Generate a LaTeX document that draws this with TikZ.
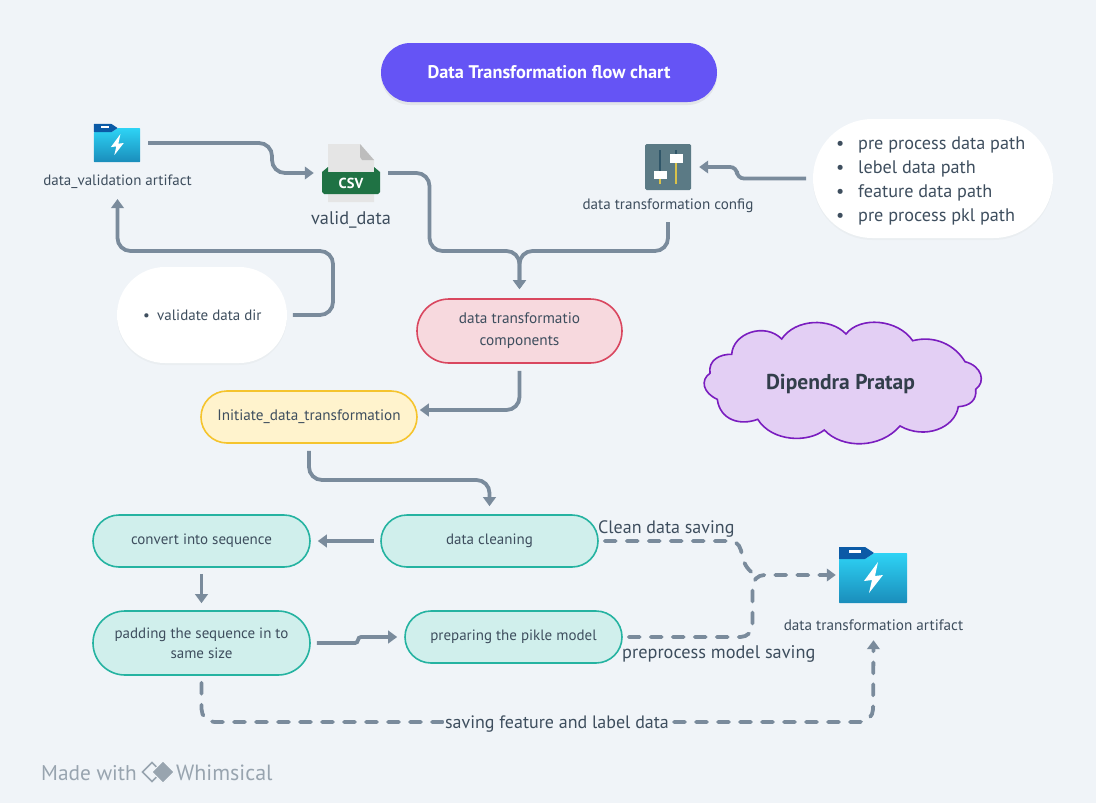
\documentclass[tikz,border=0pt]{standalone}
\usepackage{fontspec}
\setmainfont{PT Sans}
\usetikzlibrary{arrows.meta,shapes.misc,shadows,calc}
\definecolor{bgc}{HTML}{F0F4F8}
\definecolor{txt}{HTML}{3E4E5E}
\definecolor{conn}{HTML}{7A8B9C}
\definecolor{tealf}{HTML}{D0EFEC}
\definecolor{teals}{HTML}{25B3A1}
\definecolor{titlec}{HTML}{6554F5}
\definecolor{compf}{HTML}{F7D9DE}
\definecolor{comps}{HTML}{D9475F}
\definecolor{initf}{HTML}{FFF3CD}
\definecolor{inits}{HTML}{F5C42D}
\definecolor{cloudf}{HTML}{E3CFF4}
\definecolor{clouds}{HTML}{7A1DBF}
\definecolor{foldt}{HTML}{2ED3F5}
\definecolor{foldb}{HTML}{1A8DBB}
\definecolor{foldk}{HTML}{0B5AA6}
\definecolor{cfgf}{HTML}{5B7A85}
\definecolor{cfgd}{HTML}{2F5568}
\definecolor{cfgy}{HTML}{D9C24A}
\definecolor{csvg}{HTML}{1F7244}
\definecolor{foot}{HTML}{98A4AF}
\newcommand{\fs}[1]{\fontsize{#1}{#1}\selectfont}
\newcommand{\folderIcon}[3]{%
 \begin{scope}[shift={(#1,#2)},scale=#3,shift={(-34,-28)}]
  \shade[top color=foldt,bottom color=foldb,rounded corners=.6]
    (0,12) -- (26,12) -- (35,6) -- (68,6) -- (68,56) -- (0,56) -- cycle;
  \fill[fill=foldk,rounded corners=.4] (0,0) -- (26,0) -- (35,6) -- (26,12) -- (0,12) -- cycle;
  \fill[white] (10,3) rectangle (22,6);
  \fill[white] (39,15) -- (25,34) -- (33,33) -- (30,46) -- (44,28) -- (36,29) -- cycle;
 \end{scope}}
\tikzset{
 x=1pt,y=-1pt,
 lbl/.style={text=txt,inner sep=0pt,align=center},
 pill/.style={rounded rectangle,inner sep=0pt,align=center,text=txt,line width=1.6pt},
 tealp/.style={pill,draw=teals,fill=tealf,minimum width=217pt,font=\fs{15}},
 whitep/.style={pill,fill=white,drop shadow={shadow xshift=0pt,shadow yshift=-2pt,opacity=.05}},
 icon/.style={inner sep=0pt},
 flow/.style={draw=conn,line width=3.8pt,rounded corners=13pt},
 arr/.style={flow,-{Triangle[length=9pt,width=12.5pt]}},
 dashline/.style={dash pattern=on 11pt off 11pt,line cap=round},
 capt/.style={text=txt,inner sep=1pt,fill=bgc,font=\fs{18}},
}
\begin{document}
\begin{tikzpicture}
\useasboundingbox (0,0) rectangle (1096,803);
\fill[bgc] (0,0) rectangle (1096,803);
% title
\node[pill,name=title,fill=titlec,minimum width=336pt,minimum height=59pt,text=white,font=\fs{18.3}\bfseries,
 drop shadow={shadow xshift=0pt,shadow yshift=-3pt,opacity=.12}] at (549,72.5) {\raisebox{-1pt}{Data Transformation flow chart}};
% icons
\node[icon,minimum width=46pt,minimum height=38pt,name=valart] at (117,143) {};
\folderIcon{117}{143}{.68}
\node[lbl,name=vallbl,font=\fs{15}] at (117.5,182) {data\_validation artifact};
\node[icon,minimum width=58pt,minimum height=58pt,name=csv] at (351,173) {};
\fill[black!10] (328,144) -- (360,144) -- (374,160) -- (374,202) -- (328,202) -- cycle;
\fill[black!26] (360,144) -- (374,160) -- (362,160) -- (360,157) -- cycle;
\fill[csvg] (322,172) -- (328,167) -- (328,172) -- (374,172) -- (374,167) -- (380,172) -- (380,192) -- (378,194) -- (324,194) -- (322,192) -- cycle;
\node[name=csvt,text=white,inner sep=0pt,font=\fs{14.5}\bfseries] at (351,183.5) {CSV};
\node[lbl,name=vdlbl,font=\fs{18.3}] at (351,220) {valid\_data};
\node[icon,minimum width=46pt,minimum height=46pt,name=cfg] at (668,167) {};
\fill[rounded corners=1.5pt,fill=cfgf] (645,144) rectangle (691,190);
\draw[line width=2pt,draw=cfgd] (660,150) -- (660,180);
\draw[line width=2pt,draw=cfgy] (660,179) -- (660,183.5);
\draw[line width=2pt,draw=cfgd] (676,150) -- (676,156);
\draw[line width=2pt,draw=cfgy] (676,156) -- (676,183.5);
\fill[white] (654,171) rectangle (667,179);
\fill[white] (670,154) rectangle (683,163);
\node[lbl,name=cfglbl,font=\fs{15.1}] at (668,206) {data transformation config};
% white pills
\node[whitep,name=paths,minimum width=240pt,minimum height=119pt] at (933,178.5) {};
\node[lbl,name=pathst,align=left,font=\fontsize{18.2}{24}\selectfont,anchor=west] at (836,181) {%
 \makebox[22pt][l]{\textbullet}pre process data path\\
 \makebox[22pt][l]{\textbullet}lebel data path\\
 \makebox[22pt][l]{\textbullet}feature data path\\
 \makebox[22pt][l]{\textbullet}pre process pkl path};
\node[whitep,name=vdir,minimum width=170pt,minimum height=96pt] at (202,315) {};
\node[lbl,name=vdirt,font=\fs{15},anchor=west] at (143,315.5) {\makebox[14pt][l]{\textbullet}validate data dir};
% boxes
\node[pill,name=comp,draw=comps,fill=compf,minimum width=205pt,minimum height=64pt,font=\fontsize{15.3}{22}\selectfont] at (519.5,331) {\raisebox{-2pt}{data transformatio}\\\raisebox{-2pt}{components}};
\node[pill,name=init,draw=inits,fill=initf,minimum width=216pt,minimum height=52pt,font=\fs{15.2}] at (309,417) {\raisebox{-2pt}{Initiate\_data\_transformation}};
\node[tealp,name=clean,minimum height=52pt] at (489.5,541) {\raisebox{-2pt}{data cleaning}};
\node[tealp,name=seq,minimum height=52pt] at (201.5,541) {\raisebox{-2pt}{convert into sequence}};
\node[tealp,name=pad,minimum height=64pt,font=\fontsize{15}{20}\selectfont] at (201.5,643) {\raisebox{-1pt}{padding the sequence in to}\\\raisebox{-1pt}{same size}};
\node[tealp,name=pik,minimum height=52pt] at (513.5,637) {\raisebox{-2pt}{preparing the pikle model}};
% output
\node[icon,minimum width=68pt,minimum height=56pt,name=tart] at (873,575) {};
\folderIcon{873}{575}{1}
\node[lbl,name=tlbl,font=\fs{15.2}] at (873.5,625.5) {data transformation artifact};
% cloud
\draw[line width=1.6pt,draw=clouds,fill=cloudf]
 (731.7,354.3) .. controls (733,333) and (765,322) .. (781.7,339)
 .. controls (795,319) and (830,317) .. (846,334)
 .. controls (860,316) and (898,319) .. (912.7,340.7)
 .. controls (935,335) and (955,345) .. (965,361.7)
 .. controls (982,366) and (986,382) .. (975.7,389.3)
 .. controls (977,400) and (970,406) .. (958.3,406.7)
 .. controls (955,428) and (925,440) .. (900,426)
 .. controls (880,449) and (842,449) .. (824.3,430)
 .. controls (808,443) and (772,442) .. (757.7,419.3)
 .. controls (740,426) and (720,420) .. (717.3,399.3)
 .. controls (703,393) and (700,380) .. (710,373.3)
 .. controls (708,360) and (720,354) .. (731.7,354.3) -- cycle;
\node[lbl,name=cloud,font=\fs{21.5}\bfseries,text=txt!80!black] at (840.5,384) {Dipendra Pratap};
% connectors
\draw[arr] ([xshift=8pt]valart.east) -- (272,143) -- (272,173) -- ([xshift=-8pt]csv.west);
\draw[arr] ([xshift=8pt]csv.east) -- (429.5,173) -- (429.5,251) -- (519.5,251) -- ([yshift=9pt]comp.north);
\draw[arr] ([yshift=-9pt]cfglbl.south) -- (668,251) -- (519.5,251) -- ([yshift=9pt]comp.north);
\draw[flow,rounded corners=7pt,-{Triangle[length=9pt,width=12.5pt]}] ([xshift=-6pt]paths.west) -- (737,178.5) -- (737,167) -- ([xshift=8pt]cfg.east);
\draw[arr] ([xshift=5pt]vdir.east) -- (333,315) -- (333,251) -- (117.5,251) -- ([yshift=-10pt]vallbl.south);
\draw[arr] ([yshift=-7pt]comp.south) -- (519.5,410) -- ([shift={(2pt,7pt)}]init.east);
\draw[arr] ([yshift=-7pt]init.south) -- (309,480) -- (489.5,480) -- ([yshift=8pt]clean.north);
\draw[arr] ([xshift=-6pt]clean.west) -- ([xshift=7pt]seq.east);
\draw[arr] ([yshift=-6pt]seq.south) -- ([yshift=7pt]pad.north);
\draw[flow,rounded corners=3pt,-{Triangle[length=9pt,width=12.5pt]}] ([xshift=6pt]pad.east) -- (358,643) -- (358,637) -- ([xshift=-7pt]pik.west);
\draw[flow,dashline,rounded corners=0pt] ([xshift=6pt]clean.east) -- (730,541) .. controls (739,541) and (741,549) .. (742,555) .. controls (744,566) and (750,572) .. (756,575);
\draw[arr,dashline,rounded corners=12pt] ([xshift=6pt]pik.east) -- (752.5,637) -- (752.5,575) -- ([xshift=-3pt]tart.west);
\draw[arr,dashline] ([yshift=-7pt]pad.south) -- (201.5,722) -- (873,722) -- ([yshift=-9pt]tlbl.south);
% captions
\node[capt,name=c1,anchor=west,fill=none] at (597,529) {Clean data saving};
\node[capt,name=c2,anchor=west,fill=none,font=\fs{18.3}] at (621,653.5) {preprocess model saving};
\node[capt,name=c3] at (557,724) {saving feature and label data};
% footer
\node[name=made,anchor=west,inner sep=0pt,text=foot,font=\fs{21.3}] at (41,773) {Made with};
\node[name=whim,anchor=west,inner sep=0pt,text=foot,font=\fs{22}] at (176,773) {Whimsical};
\draw[line width=1.5pt,draw=foot] (152,762.5) -- (142.5,772) -- (152,781.5) -- (161.5,772) -- cycle;
\draw[line width=1pt,draw=bgc,fill=foot] (163,761) -- (152,772) -- (163,783) -- (174,772) -- cycle;
\end{tikzpicture}
\end{document}
